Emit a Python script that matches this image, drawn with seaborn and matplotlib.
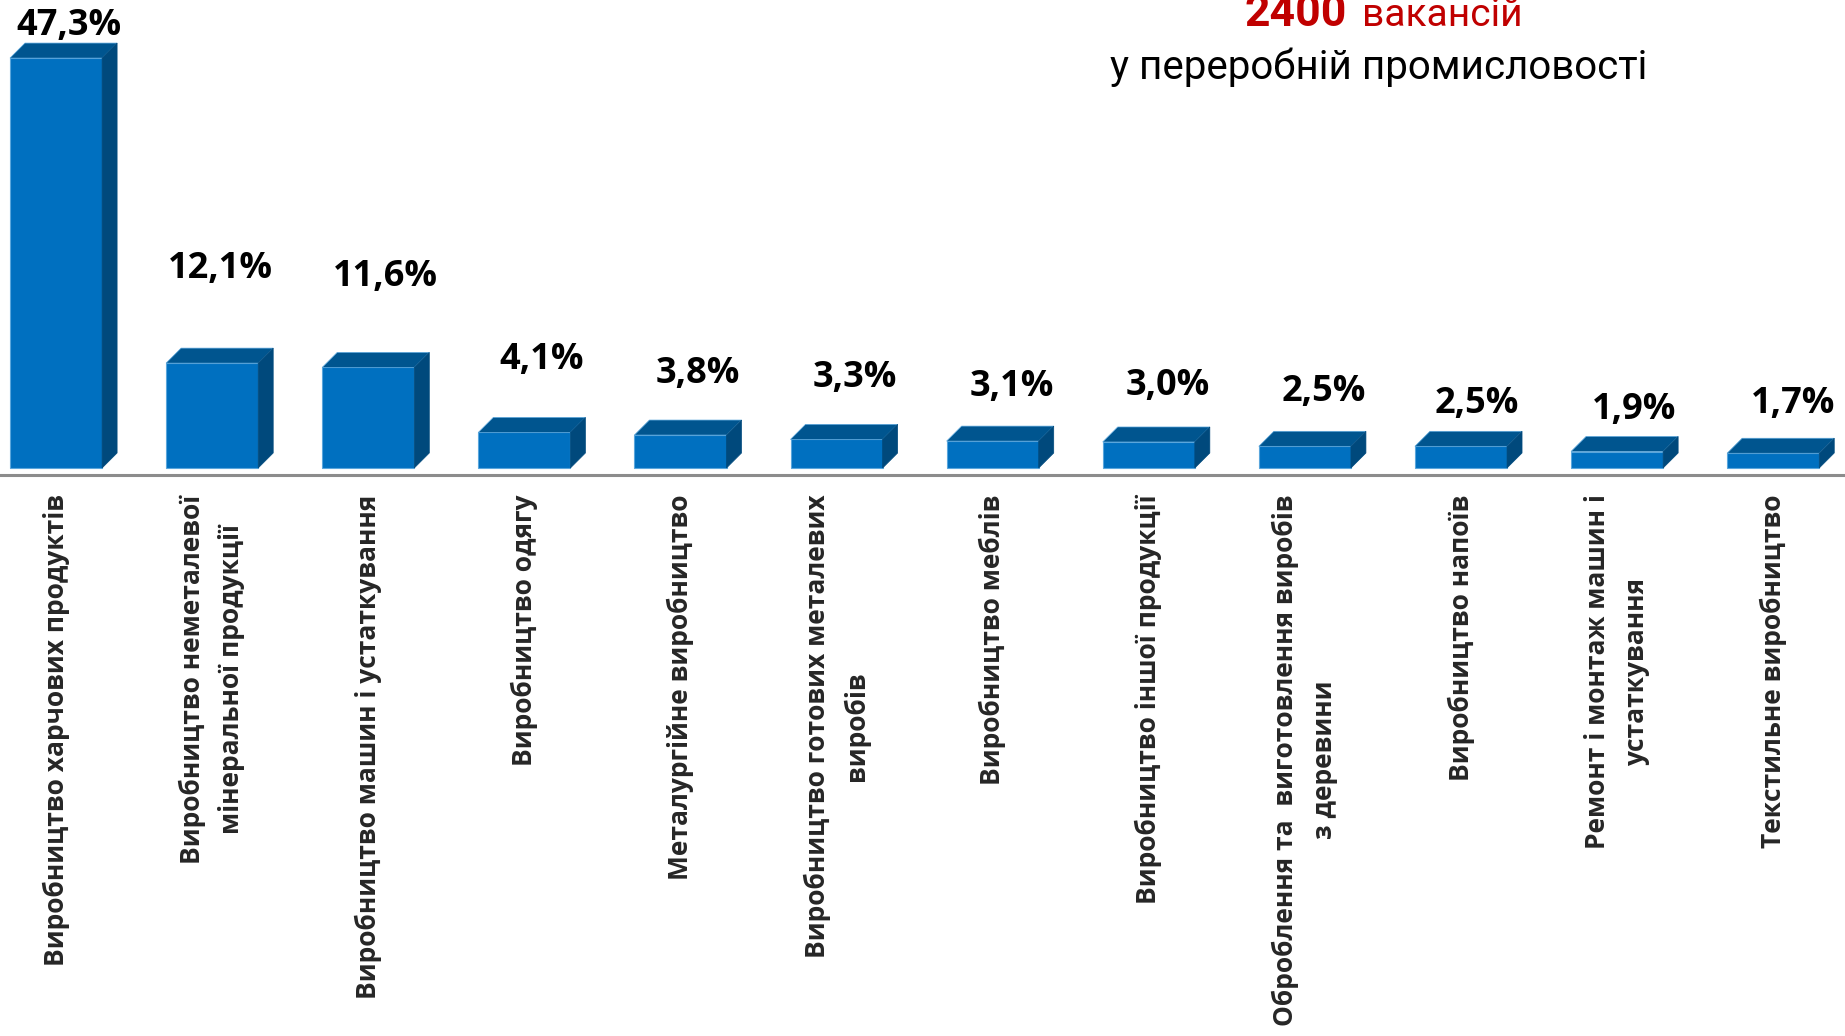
import numpy as np
import pandas as pd
import matplotlib.pyplot as plt
from matplotlib.patches import Polygon
import seaborn as sns

# Chart data
categories = [
    "Виробництво харчових продуктів",
    "Виробництво неметалевої\nмінеральної продукції",
    "Виробництво машин і устаткування",
    "Виробництво одягу",
    "Металургійне виробництво",
    "Виробництво готових металевих\nвиробів",
    "Виробництво меблів",
    "Виробництво іншої продукції",
    "Оброблення та  виготовлення виробів\nз деревини",
    "Виробництво напоїв",
    "Ремонт і монтаж машин і\nустаткування",
    "Текстильне виробництво",
]
shares = [47.3, 12.1, 11.6, 4.1, 3.8, 3.3, 3.1, 3.0, 2.5, 2.5, 1.9, 1.7]
title_number = "2400"
title_unit = "вакансій"
title_line2 = "у переробній промисловості"

# Layout: where each value label sits relative to its bar
# (x shift in category units, lift in percentage points)
label_shift = [0.08, 0.05, 0.11, 0.11, 0.11, 0.12, 0.12, 0.12, 0.12, 0.10, 0.11, 0.13]
label_gap = [2.7, 9.8, 9.4, 7.3, 6.0, 6.0, 5.2, 5.4, 5.2, 3.8, 3.8, 4.6]

FRONT = "#0070c0"
TOP = "#00558f"
SIDE = "#00497c"
EDGE = "#5aa6dc"

W, H = 1845, 1036
fig = plt.figure(figsize=(W / 100, H / 100), dpi=100)
sns.set_style("white")
plt.rcParams['font.family'] = ['Open Sans', 'DejaVu Sans']

ax = fig.add_axes([0, 1 - 475 / H, 1, 475 / H])
df = pd.DataFrame({"category": categories, "share": shares})
sns.barplot(data=df, x="category", y="share", color=FRONT, saturation=1,
            width=0.59, edgecolor=EDGE, linewidth=0.8, ax=ax)

# pseudo-3D: top and side faces
dx = 15 / 156.1
dy = 15 / 8.668
for patch in ax.patches:
    x0, w, h = patch.get_x(), patch.get_width(), patch.get_height()
    top = Polygon([(x0, h), (x0 + w, h), (x0 + w + dx, h + dy), (x0 + dx, h + dy)],
                  closed=True, facecolor=TOP, edgecolor=EDGE, linewidth=0.5, zorder=3)
    side = Polygon([(x0 + w, 0), (x0 + w + dx, dy), (x0 + w + dx, h + dy), (x0 + w, h)],
                   closed=True, facecolor=SIDE, edgecolor=SIDE, linewidth=0.5, zorder=3)
    ax.add_patch(top)
    ax.add_patch(side)

for i, (v, sx, g) in enumerate(zip(shares, label_shift, label_gap)):
    ax.text(i + sx, v + g, f"{v:.1f}".replace(".", ",") + "%", ha="center",
            va="baseline", fontsize=26, fontweight="bold", color="black")

ax.set_xlim(-0.359, 11.46)
ax.set_ylim(-0.81, 54.0)
ax.set_xlabel("")
ax.set_ylabel("")
ax.set_yticks([])
ax.set_xticks(range(len(categories)))
ax.set_xticklabels(categories, rotation=90, ha="center", va="top",
                   fontsize=19, fontweight="bold", linespacing=1.55,
                   multialignment="center")
ax.tick_params(axis="x", length=0, pad=14)
for s in ["top", "left", "right"]:
    ax.spines[s].set_visible(False)
ax.spines["bottom"].set_color("#8c8c8c")
ax.spines["bottom"].set_linewidth(2.2)

# Heading
head_font = ['Roboto', 'DejaVu Sans']
fig.text(1347 / W, 1 - 26 / H, title_number, ha="right", va="baseline",
         fontsize=32, fontweight="bold", color="#c00000", family=head_font)
fig.text(1362 / W, 1 - 26 / H, title_unit, ha="left", va="baseline",
         fontsize=28, color="#c00000", family=head_font)
fig.text(1379 / W, 1 - 79 / H, title_line2, ha="center", va="baseline",
         fontsize=29, color="black", family=head_font)

fig.savefig("out.png", dpi=100)
